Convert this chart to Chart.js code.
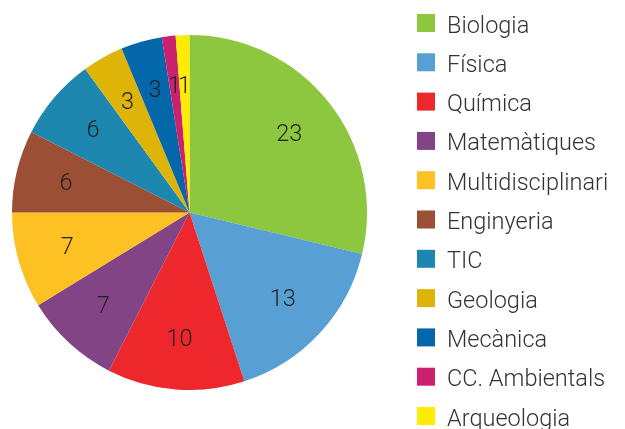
<!DOCTYPE html>
<html>
<head>
<meta charset="utf-8">
<script src="https://cdn.jsdelivr.net/npm/chart.js@4"></script>
<style>
  html, body { margin: 0; padding: 0; background: #fff; }
  #wrap { width: 625px; height: 429px; position: relative; }
</style>
</head>
<body>
<div id="wrap"><canvas id="chartAreas"></canvas></div>
<script>
// Projects per area
const areaLabels = ['Biologia', 'Física', 'Química', 'Matemàtiques', 'Multidisciplinari',
    'Enginyeria', 'TIC', 'Geologia', 'Mecànica', 'CC. Ambientals', 'Arqueologia'];
const areaValues = [23, 13, 10, 7, 7, 6, 6, 3, 3, 1, 1];
const areaColors = ['#8dc63f', '#589fd4', '#ed272b', '#834486', '#fec124',
    '#9b5035', '#1d87b0', '#dfb409', '#0467a9', '#cb2171', '#ffec00'];

const textFont = '300 23.5px Roboto';

// Numbers inside the slices
const sliceLabels = {
    id: 'sliceLabels',
    afterDatasetsDraw(chart) {
        const ctx = chart.ctx;
        const meta = chart.getDatasetMeta(0);
        ctx.save();
        ctx.font = textFont;
        ctx.fillStyle = '#222';
        ctx.textAlign = 'center';
        ctx.textBaseline = 'middle';
        meta.data.forEach((arc, i) => {
            const p = arc.getProps(['x', 'y', 'startAngle', 'endAngle', 'outerRadius'], true);
            const mid = (p.startAngle + p.endAngle) / 2;
            const r = p.outerRadius * 0.715;
            ctx.fillText(String(areaValues[i]), p.x + Math.cos(mid) * r, p.y + Math.sin(mid) * r + 1);
        });
        ctx.restore();
    }
};

// Legend on the right, one item per row
const sideLegend = {
    id: 'sideLegend',
    afterDraw(chart) {
        const ctx = chart.ctx;
        ctx.save();
        ctx.font = textFont;
        ctx.textBaseline = 'alphabetic';
        chart.data.labels.forEach((label, i) => {
            const cy = 23 + i * 39.3;
            ctx.fillStyle = areaColors[i];
            ctx.fillRect(417, cy - 9, 18, 18);
            ctx.fillStyle = '#333';
            ctx.fillText(label, 447, cy + 9.5);
        });
        ctx.restore();
    }
};

const ctxAreas = document.getElementById('chartAreas').getContext('2d');
new Chart(ctxAreas, {
    type: 'pie',
    data: {
        labels: areaLabels,
        datasets: [{
            data: areaValues,
            backgroundColor: areaColors,
            borderWidth: 0
        }]
    },
    options: {
        responsive: true,
        maintainAspectRatio: false,
        animation: false,
        layout: { padding: { left: 12, top: 35, right: 258, bottom: 39 } },
        plugins: {
            legend: { display: false },
            tooltip: { enabled: false }
        }
    },
    plugins: [sliceLabels, sideLegend]
});
</script>
</body>
</html>
